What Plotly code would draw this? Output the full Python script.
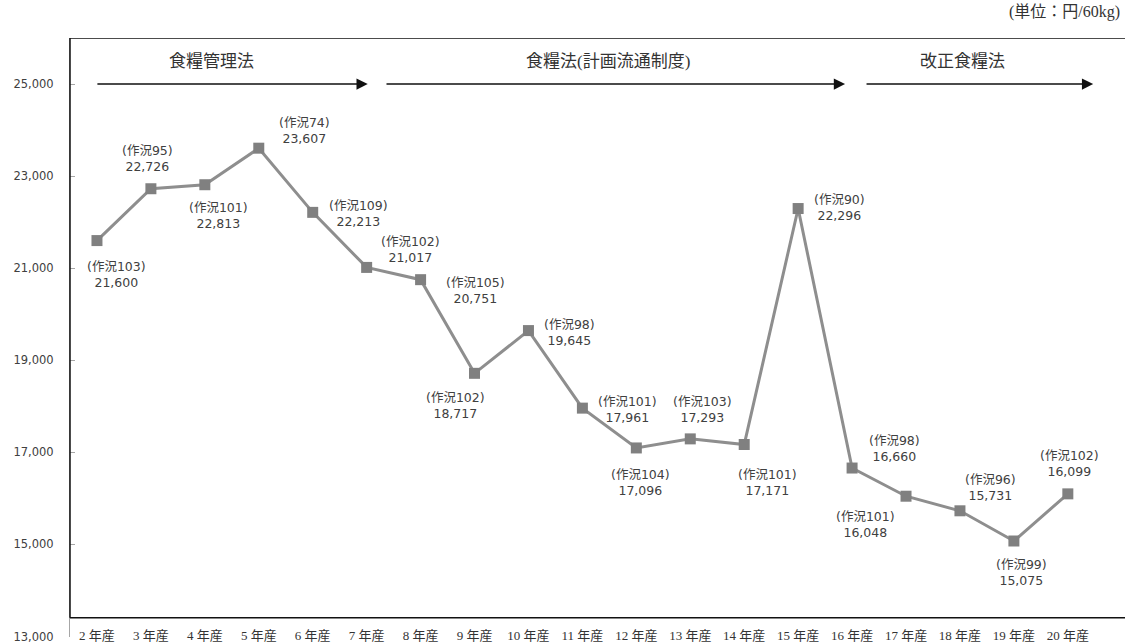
import plotly.graph_objects as go

years = ["2 年産", "3 年産", "4 年産", "5 年産", "6 年産", "7 年産", "8 年産", "9 年産",
         "10 年産", "11 年産", "12 年産", "13 年産", "14 年産", "15 年産", "16 年産",
         "17 年産", "18 年産", "19 年産", "20 年産"]
prices = [21600, 22726, 22813, 23607, 22213, 21017, 20751, 18717, 19645, 17961,
          17096, 17293, 17171, 22296, 16660, 16048, 15731, 15075, 16099]
sakkyo = [103, 95, 101, 74, 109, 102, 105, 102, 98, 101, 104, 103, 101, 90, 98,
          101, 96, 99, 102]
y_ticks = [13000, 15000, 17000, 19000, 21000, 23000, 25000]
periods = ["食糧管理法", "食糧法(計画流通制度)", "改正食糧法"]
unit_label = "(単位：円/60kg)"

# label placement (pixel offsets from point: dx right, dy down)
label_offsets = [(20, 34), (-3, -30), (14, 31), (46, -18), (46, 1), (44, -18),
                 (55, 11), (-19, 32), (41, 2), (45, 1), (4, 35), (12, -29),
                 (23, 38), (41, -1), (42, -20), (-41, 28), (31, -23), (8, 31),
                 (2, -30)]
# period arrows (category-index positions) and header positions
arrow_spans = [(-0.02, 5.02), (5.34, 13.87), (14.24, 18.47)]
header_x = [2.13, 9.47, 16.04]

SANS = "DejaVu Sans, Noto Sans CJK JP, sans-serif"
SERIF = "Liberation Serif, DejaVu Serif, Noto Sans CJK JP, serif"

fig = go.Figure()
fig.add_trace(go.Scatter(
    x=years, y=prices, mode="lines+markers",
    line=dict(color="#8e8e8e", width=3),
    marker=dict(symbol="square", size=11, color="#808080"),
    hoverinfo="x+y", showlegend=False,
))

annotations = []
for i, (cat, v, s) in enumerate(zip(years, prices, sakkyo)):
    dx, dy = label_offsets[i]
    annotations.append(dict(
        x=i, y=v, xref="x", yref="y", text=f"(作況{s})<br>{v:,}",
        showarrow=False, xshift=dx, yshift=-dy,
        font=dict(family=SANS, size=12.5, color="#404040"), align="center",
    ))

for (x0, x1) in arrow_spans:
    annotations.append(dict(
        x=x1, y=25000, ax=x0, ay=25000, xref="x", yref="y", axref="x", ayref="y",
        text="", showarrow=True, arrowhead=2, arrowsize=1.5, arrowwidth=1.5,
        arrowcolor="#111111", standoff=0, startstandoff=0,
    ))

for name, hx in zip(periods, header_x):
    annotations.append(dict(
        x=hx, y=25480, xref="x", yref="y", text=name, showarrow=False,
        font=dict(family=SERIF, size=17, color="#333333"),
    ))

annotations.append(dict(
    x=1, y=1.043, xref="paper", yref="paper", xanchor="right", yanchor="middle",
    xshift=-3, text=unit_label, showarrow=False,
    font=dict(family=SERIF, size=16, color="#333333"),
))

shapes = [
    dict(type="line", xref="paper", yref="y", x0=0, x1=1, y0=26000, y1=26000,
         line=dict(color="#111111", width=1.5)),
    dict(type="line", xref="paper", yref="y", x0=0, x1=1, y0=13410, y1=13410,
         line=dict(color="#111111", width=1.5)),
    dict(type="line", xref="paper", yref="y", x0=0, x1=0, y0=13410, y1=26000,
         line=dict(color="#111111", width=1.5)),
]

fig.update_layout(
    width=1125, height=643,
    margin=dict(l=70, r=0, t=38, b=6, autoexpand=False),
    paper_bgcolor="white", plot_bgcolor="white",
    xaxis=dict(type="category", range=[-0.5, 19.06], showgrid=False,
               zeroline=False, showline=False, ticks="", automargin=False,
               ticklabelstandoff=-11, ticklabeloverflow="allow",
               tickfont=dict(family=SERIF, size=13, color="#333333")),
    yaxis=dict(range=[12990, 26000], tickvals=y_ticks, tickformat=",d",
               showgrid=False, zeroline=False, showline=True, linecolor="#a6a6a6",
               linewidth=1, ticks="inside", ticklen=5, tickcolor="#a6a6a6",
               ticklabelstandoff=13, automargin=False, ticklabeloverflow="allow",
               tickfont=dict(family=SANS, size=11.5, color="#404040")),
    annotations=annotations, shapes=shapes,
)

fig.write_html("out.html", config={"displayModeBar": False},
               post_script="document.body.style.margin='0';document.body.style.overflow='hidden';")
